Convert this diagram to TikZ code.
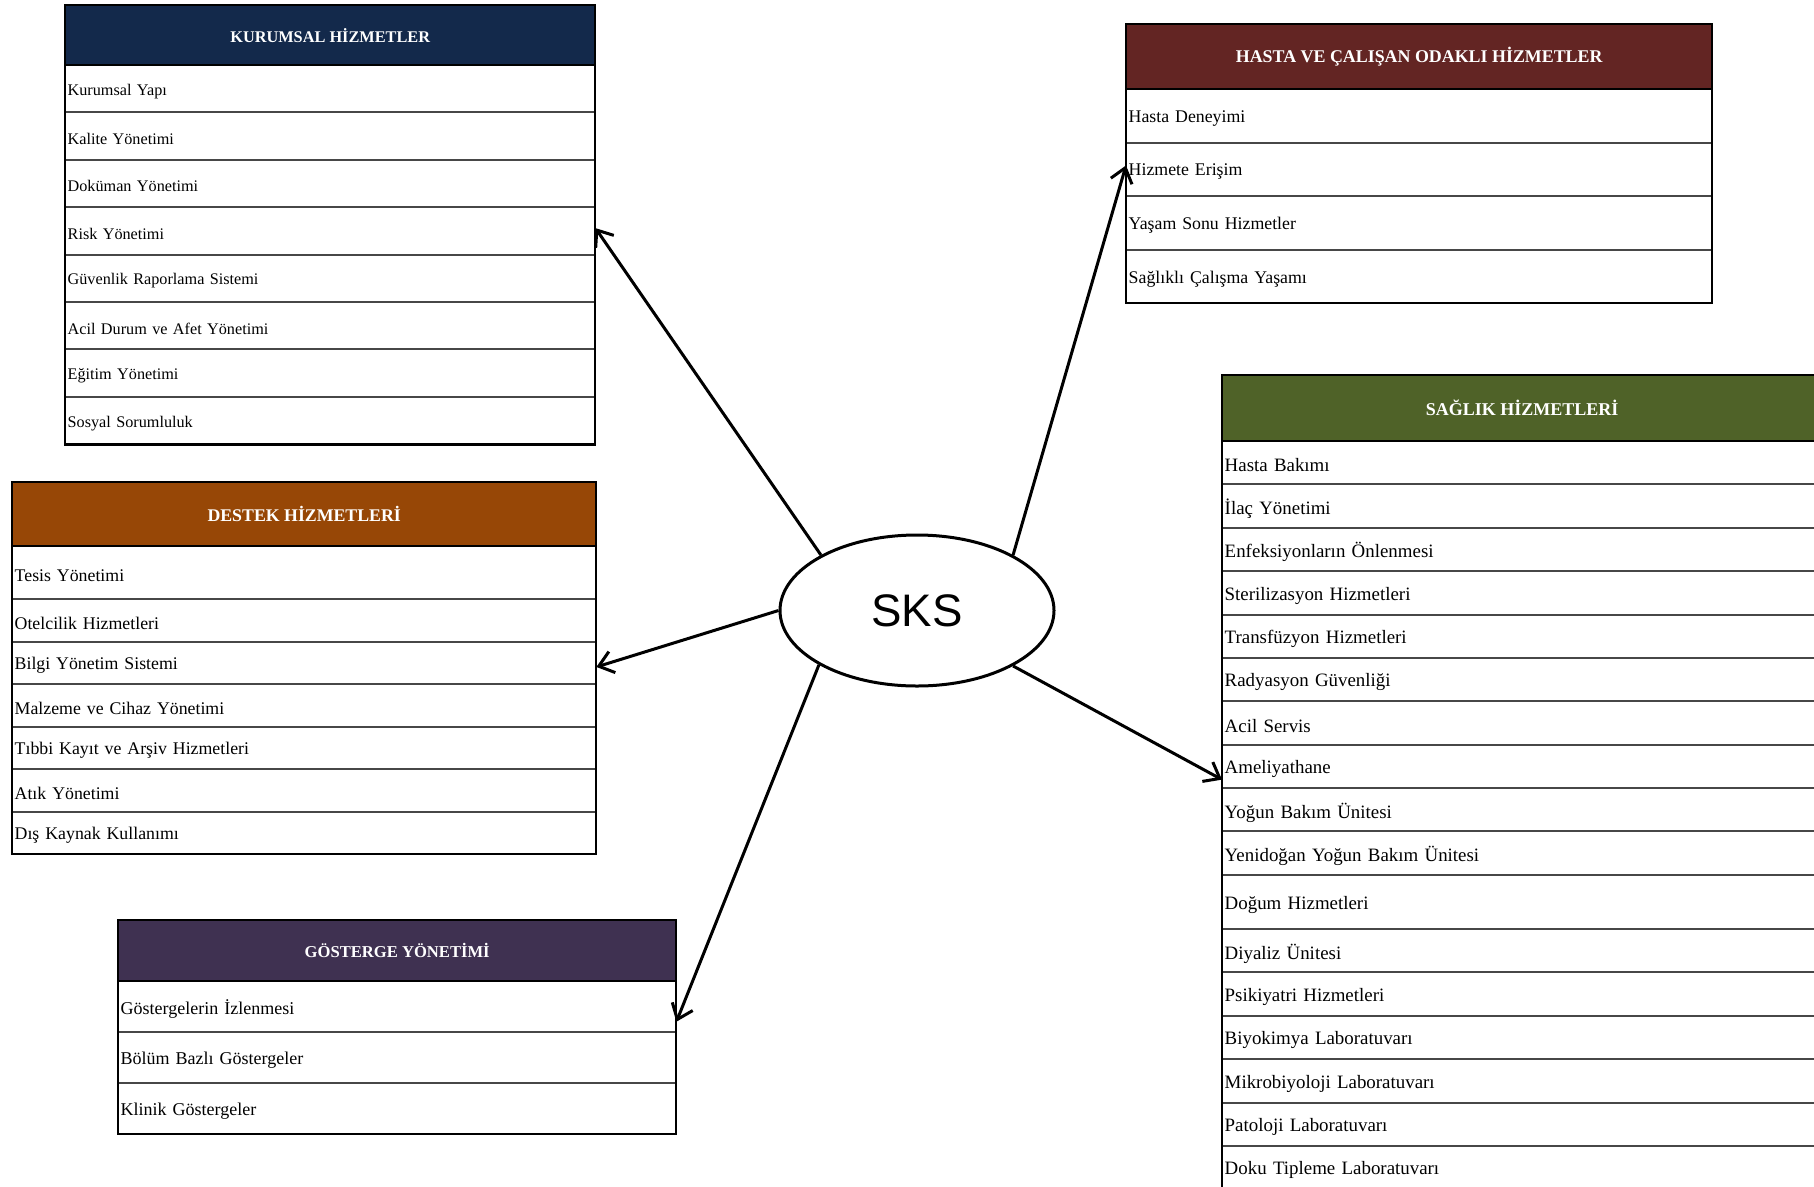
\documentclass[tikz,border=0pt]{standalone}
\usepackage{fontspec}
\setmainfont{Liberation Serif}[WordSpace=0.7, BoldFeatures={WordSpace=1.0}]
\setsansfont{Liberation Sans}
\usetikzlibrary{shapes.geometric,arrows.meta,calc}
\definecolor{cKur}{HTML}{13294B}
\definecolor{cHas}{HTML}{632523}
\definecolor{cDes}{HTML}{974706}
\definecolor{cSag}{HTML}{4F6228}
\definecolor{cGos}{HTML}{3F3151}
\begin{document}
\begin{tikzpicture}[x=1pt,y=-1pt,
  hdr/.style={anchor=north west, inner sep=0pt, text=white, font=\fontsize{#1}{#1}\selectfont\bfseries},
  rowtxt/.style={anchor=north west, inner xsep=2.5pt, inner ysep=0pt, yshift=-2.5pt, align=left, text width=500pt, font=\fontsize{#1}{#1}\selectfont},
  sepline/.style={draw=black!72, line width=2pt},
  frame/.style={draw=black, line width=2.6pt},
  link/.style={line width=3pt, -{Straight Barb[length=14pt,width=22pt]}}]
\fill[white] (0,0) rectangle (1814,1186);
\useasboundingbox (0,0) rectangle (1814,1186);
\clip (0,0) rectangle (1814,1186);

% ---------- KURUMSAL HIZMETLER ----------
\node[hdr=16.3, fill=cKur, minimum width=530pt, minimum height=60pt] (khead) at (65,5) {KURUMSAL HİZMETLER};
\foreach \t/\h/\txt [count=\i] in {65/47.4/Kurumsal Yapı, 112.4/47.4/Kalite Yönetimi, 159.8/47.4/Doküman Yönetimi, 207.2/47.4/Risk Yönetimi, 254.6/47.4/Güvenlik Raporlama Sistemi, 302/47.4/Acil Durum ve Afet Yönetimi, 349.4/47.4/Eğitim Yönetimi, 396.8/47.4/Sosyal Sorumluluk}
  {\node[rowtxt=16.2, minimum height=\h pt] (k\i) at (65,\t) {\txt};}
\foreach \y in {112.4,159.8,207.2,254.6,302,349.4,396.8} \draw[sepline] (65,\y) -- (595,\y);
\draw[frame] (65,65) -- (595,65);
\draw[frame] (65,5) rectangle (595,444.2);

% ---------- HASTA VE CALISAN ----------
\node[hdr=17.9, fill=cHas, minimum width=586pt, minimum height=65pt] (hhead) at (1126,24) {HASTA VE ÇALIŞAN ODAKLI HİZMETLER};
\foreach \t/\h/\txt [count=\i] in {89/53.5/Hasta Deneyimi, 142.5/53.5/Hizmete Erişim, 196/53.5/Yaşam Sonu Hizmetler, 249.5/53.5/Sağlıklı Çalışma Yaşamı}
  {\node[rowtxt=17.8, minimum height=\h pt] (h\i) at (1126,\t) {\txt};}
\foreach \y in {142.5,196,249.5} \draw[sepline] (1126,\y) -- (1712,\y);
\draw[frame] (1126,89) -- (1712,89);
\draw[frame] (1126,24) rectangle (1712,303);

% ---------- DESTEK HIZMETLERI ----------
\node[hdr=17.8, fill=cDes, minimum width=584pt, minimum height=64pt] (dhead) at (12,482) {DESTEK HİZMETLERİ};
\foreach \t/\h/\txt [count=\i] in {546/53/Tesis Yönetimi, 599/42.5/Otelcilik Hizmetleri, 641.5/42.5/Bilgi Yönetim Sistemi, 684/42.5/Malzeme ve Cihaz Yönetimi, 726.5/42.5/Tıbbi Kayıt ve Arşiv Hizmetleri, 769/42.5/Atık Yönetimi, 811.5/42.5/Dış Kaynak Kullanımı}
  {\node[rowtxt=17.8, minimum height=\h pt] (d\i) at (12,\t) {\txt};}
\foreach \y in {599,641.5,684,726.5,769,811.5} \draw[sepline] (12,\y) -- (596,\y);
\draw[frame] (12,546) -- (596,546);
\draw[frame] (12,482) rectangle (596,854);

% ---------- GOSTERGE YONETIMI ----------
\node[hdr=16.6, fill=cGos, minimum width=558pt, minimum height=61pt] (ghead) at (118,920) {GÖSTERGE YÖNETİMİ};
\foreach \t/\h/\txt [count=\i] in {981/51/Göstergelerin İzlenmesi, 1032/51/Bölüm Bazlı Göstergeler, 1083/51/Klinik Göstergeler}
  {\node[rowtxt=18.0, minimum height=\h pt] (g\i) at (118,\t) {\txt};}
\foreach \y in {1032,1083} \draw[sepline] (118,\y) -- (676,\y);
\draw[frame] (118,981) -- (676,981);
\draw[frame] (118,920) rectangle (676,1134);

% ---------- SAGLIK HIZMETLERI ----------
\node[hdr=18.0, fill=cSag, minimum width=600pt, minimum height=66pt] (shead) at (1222,375) {SAĞLIK HİZMETLERİ};
\foreach \t/\h/\txt [count=\i] in {441/43.4/Hasta Bakımı, 484.4/43.4/İlaç Yönetimi, 527.8/43.4/Enfeksiyonların Önlenmesi, 571.1/43.4/Sterilizasyon Hizmetleri, 614.5/43.4/Transfüzyon Hizmetleri, 657.9/43.4/Radyasyon Güvenliği, 701.3/43.4/Acil Servis, 744.7/43.4/Ameliyathane, 788/43.4/Yoğun Bakım Ünitesi, 831.4/43.4/Yenidoğan Yoğun Bakım Ünitesi, 874.8/54.2/Doğum Hizmetleri, 929/43.4/Diyaliz Ünitesi, 972.4/43.4/Psikiyatri Hizmetleri, 1015.8/43.4/Biyokimya Laboratuvarı, 1059.2/43.4/Mikrobiyoloji Laboratuvarı, 1102.6/43.4/Patoloji Laboratuvarı, 1146/43.4/Doku Tipleme Laboratuvarı}
  {\node[rowtxt=18.9, minimum height=\h pt] (s\i) at (1222,\t) {\txt};}
\foreach \y in {484.4,527.8,571.1,614.5,657.9,701.3,744.7,788,831.4,874.8,929,972.4,1015.8,1059.2,1102.6,1146} \draw[sepline] (1222,\y) -- (1822,\y);
\draw[frame] (1222,441) -- (1822,441);
\draw[frame] (1222,375) rectangle (1822,1189.4);

% ---------- SKS ----------
\node[draw, ellipse, line width=3pt, minimum width=274pt, minimum height=151pt, inner sep=0pt,
      font=\sffamily\fontsize{45.6}{50}\selectfont] (sks) at (917,610.5) {SKS};

% ---------- connectors ----------
\draw[link] (sks.150) -- ($(k4.west -| khead.east)+(0,-5.5)$);
\draw[link] (sks.30)  -- ($(h2.west)+(0,-6.5)$);
\draw[link] (sks.180) -- ($(d3.west -| dhead.east)+(0,1.5)$);
\draw[link] (sks.209) -- ($(g1.west -| ghead.east)+(0,12.5)$);
\draw[link] (sks.330) -- ($(s8.west)+(0,10.5)$);
\end{tikzpicture}
\end{document}
